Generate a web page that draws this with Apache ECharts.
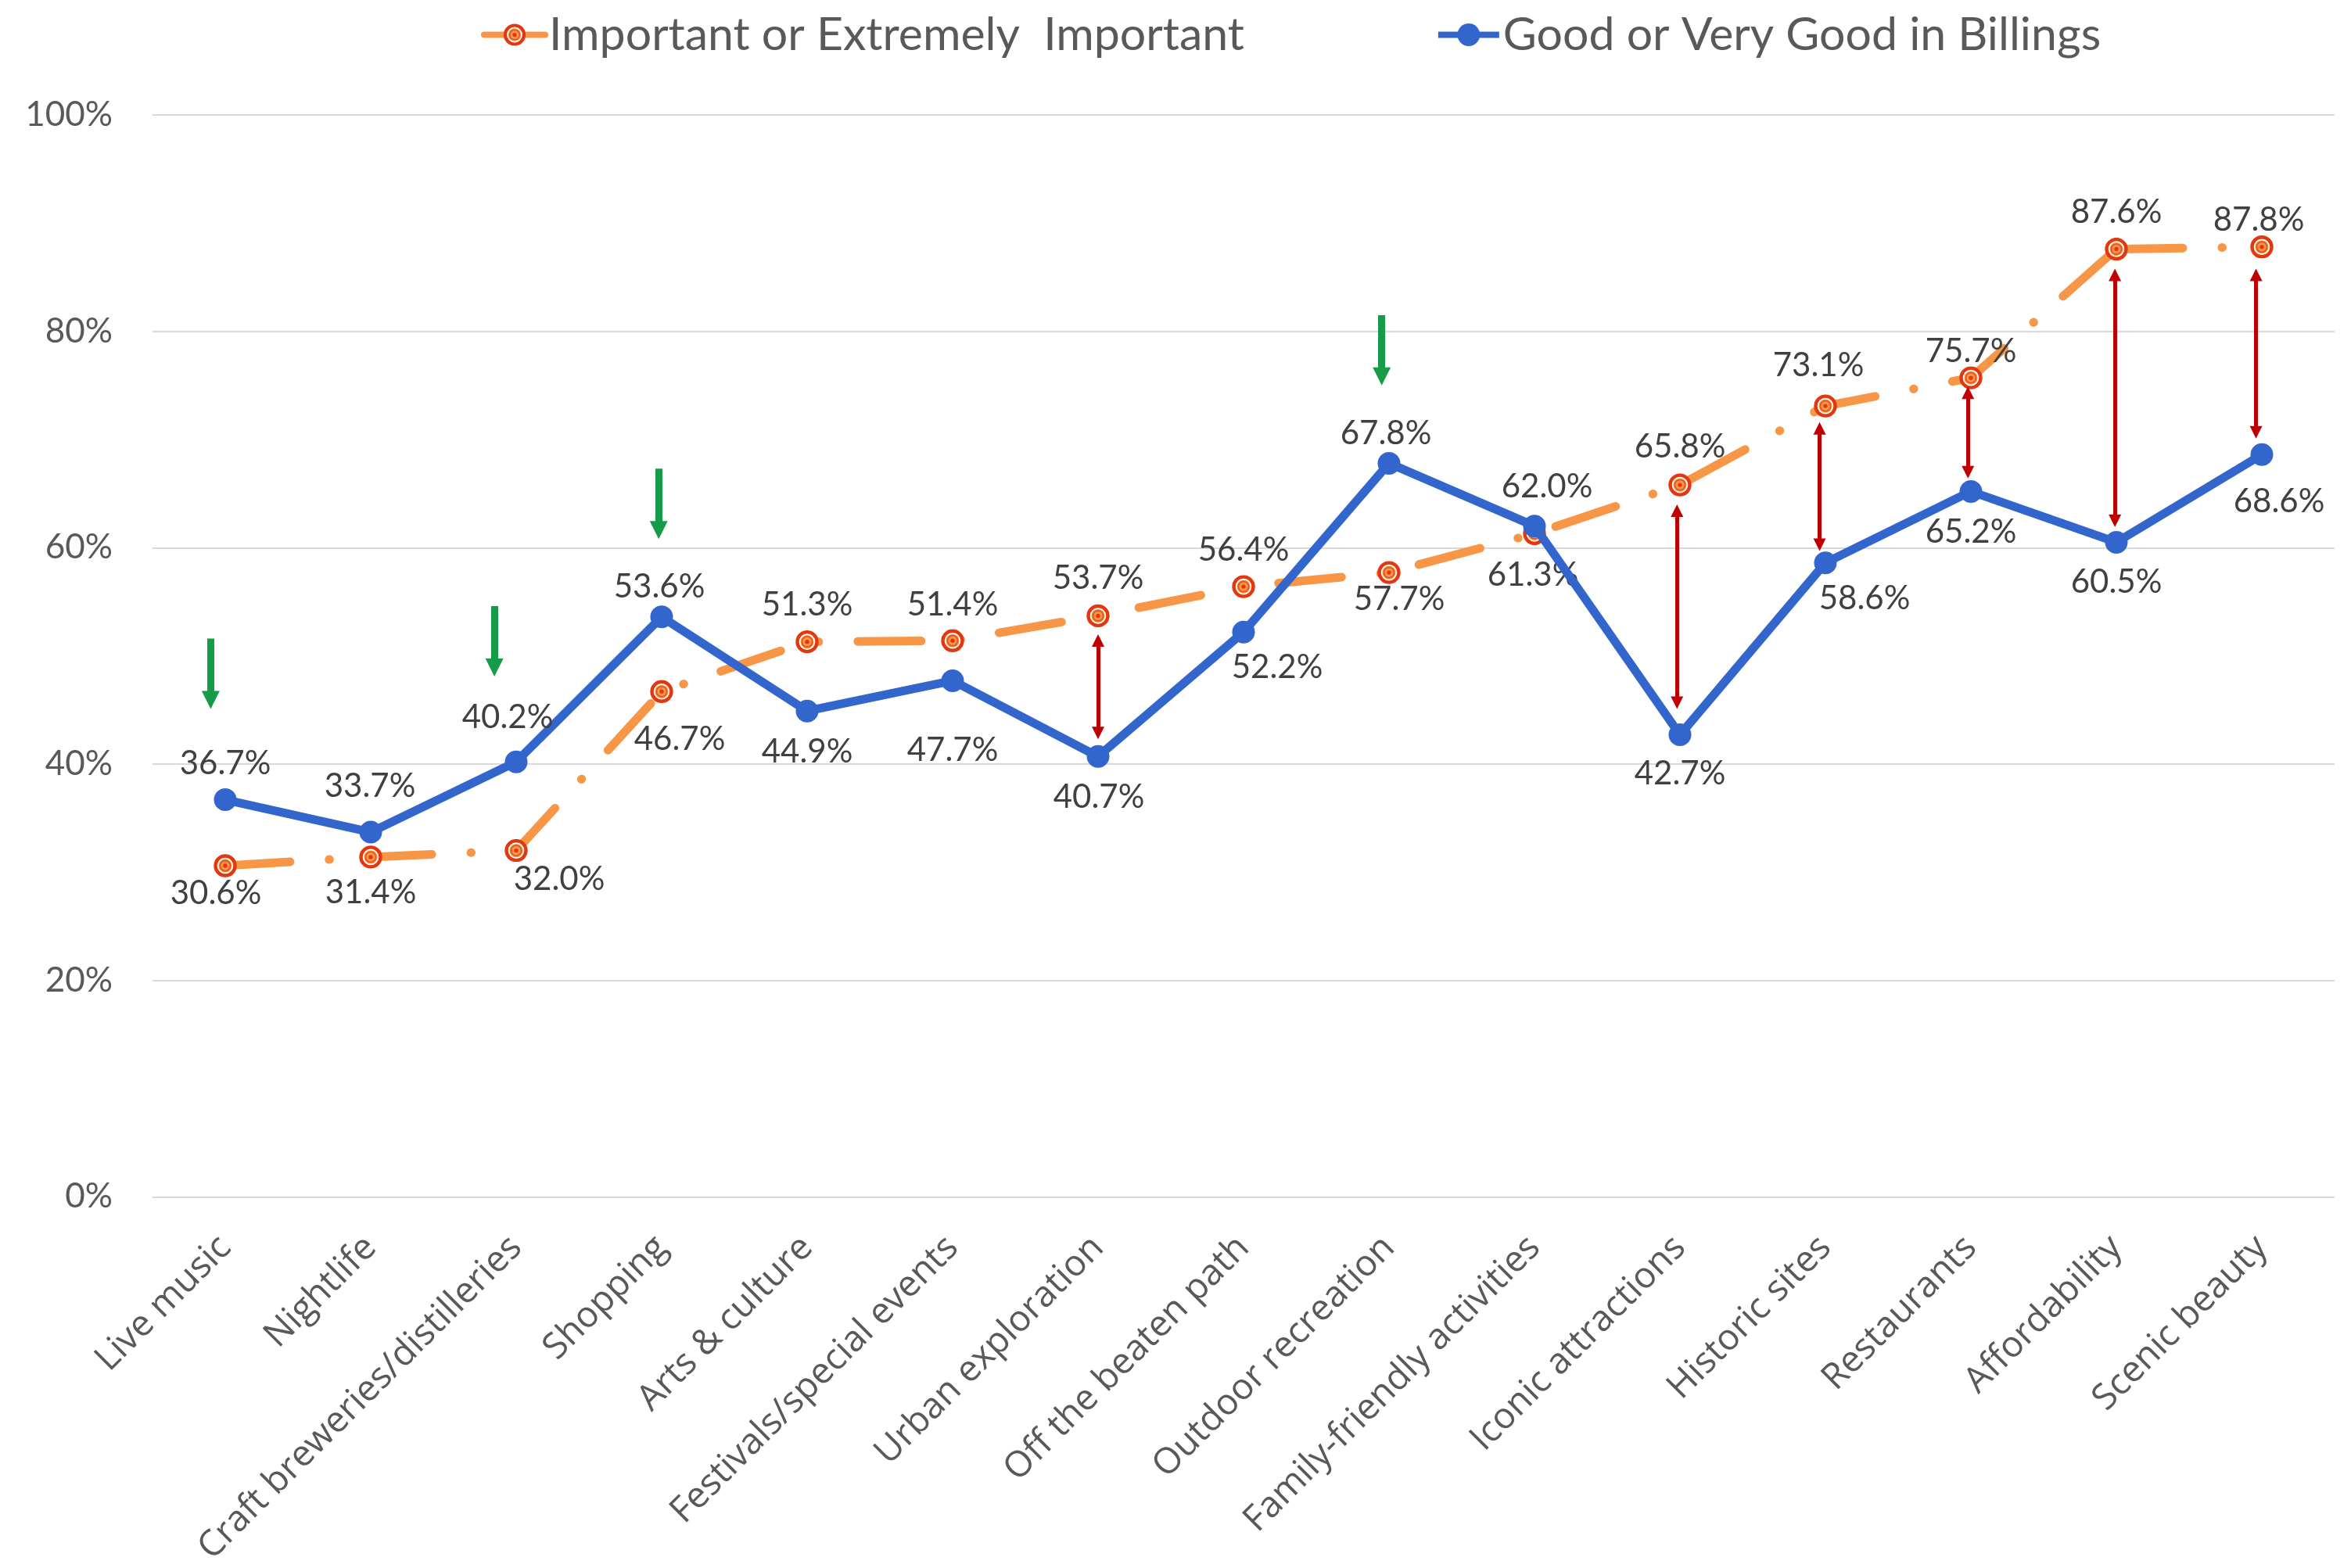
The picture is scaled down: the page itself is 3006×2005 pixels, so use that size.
<!DOCTYPE html>
<html>
<head>
<meta charset="utf-8">
<title>Important vs Good in Billings</title>
<script src="https://cdn.jsdelivr.net/npm/echarts@6/dist/echarts.min.js"></script>
<style>
    html, body { margin: 0; padding: 0; background: #fff; }
    #chart { width: 3006px; height: 2005px; }
</style>
</head>
<body>
<div id="chart"></div>
<script>
const categories = [
    'Live music', 'Nightlife', 'Craft breweries/distilleries', 'Shopping',
    'Arts & culture', 'Festivals/special events', 'Urban exploration',
    'Off the beaten path', 'Outdoor recreation', 'Family-friendly activities',
    'Iconic attractions', 'Historic sites', 'Restaurants', 'Affordability',
    'Scenic beauty'
]
const importantValues = [30.6, 31.4, 32.0, 46.7, 51.3, 51.4, 53.7, 56.4, 57.7, 61.3, 65.8, 73.1, 75.7, 87.6, 87.8]
const goodValues = [36.7, 33.7, 40.2, 53.6, 44.9, 47.7, 40.7, 52.2, 67.8, 62.0, 42.7, 58.6, 65.2, 60.5, 68.6]
const yMin = 0
const yMax = 100
const yInterval = 20

// green "drop" arrows: [x in category units, shaft top %, tip %]
const greenArrows = [[-0.1, 51.6, 45.1], [1.85, 54.6, 48.1], [2.98, 67.3, 60.8], [7.95, 81.5, 75.0]]
// red gap arrows: [x in category units, upper tip %, lower tip %]
const redArrows = [[6.0, 52.0, 42.3], [9.98, 64.0, 45.1], [10.96, 71.6, 59.7], [11.98, 74.9, 66.4], [12.99, 85.8, 61.9], [13.96, 85.8, 70.1]]

// where each value label sits, offset of its centre from the point (px)
const importantLabelOffsets = [[-12, 35], [0, 46], [55, 37], [23, 61], [0, -47], [0, -46], [0, -48], [0, -47], [13, 34], [-2, 53], [0, -49], [-9, -52], [0, -34], [0, -47], [-4, -34]]
const goodLabelOffsets = [[0, -46], [-1, -59], [-11, -57], [-3, -38], [0, 52], [0, 89], [1, 52], [43, 45], [-4, -38], [16, -50], [0, 50], [50, 46], [0, 52], [0, 51], [22, 60]]

const ORANGE = '#F79646'
const RED = '#E2380F'
const BLUE = '#3366CC'
const GREEN = '#169B48'
const DARK_RED = '#C00000'
const FONT = 'Lato, "Open Sans", sans-serif'

const IMPORTANT = 'Important or Extremely  Important'
const GOOD = 'Good or Very Good in Billings'

const grid = { left: 195, right: 21, top: 147, bottom: 470 }

const el = document.getElementById('chart')
const pxPerUnit = (el.clientHeight - grid.top - grid.bottom) / (yMax - yMin)

// Excel's dash pattern starts over on the last orange segment, so it is drawn on its own
const tailStart = categories.length - 2

// target marker used by Excel for the orange series
const targetSvg = `<svg xmlns="http://www.w3.org/2000/svg" width="60" height="60" viewBox="0 0 30 30">
<circle cx="15" cy="15" r="12.5" fill="#fff" stroke="${RED}" stroke-width="4.4"/>
<circle cx="15" cy="15" r="8.6" fill="${ORANGE}"/>
<circle cx="15" cy="15" r="6.6" fill="none" stroke="${RED}" stroke-width="1.6" opacity="0.75"/>
<circle cx="15" cy="15" r="2.7" fill="${RED}"/>
</svg>`
const targetSymbol = 'image://data:image/svg+xml;charset=utf-8,' + encodeURIComponent(targetSvg)

const labelBase = {
    show: true,
    position: 'inside',
    fontFamily: FONT,
    fontSize: 42,
    color: '#404040',
    textBorderWidth: 0,
    formatter: p => p.value.toFixed(1) + '%'
}
const orangeDash = [81, 50, 0.5, 50]

const GREEN_HEAD = 23
const RED_HEAD = 16

const greenLines = greenArrows.map(([x, top, tip]) => ({
    coords: [[x, top], [x, tip + GREEN_HEAD / 2 / pxPerUnit]]
}))
const redLines = redArrows.map(([x, upper, lower]) => ({
    coords: [[x, upper - RED_HEAD / 2 / pxPerUnit], [x, lower + RED_HEAD / 2 / pxPerUnit]]
}))

const importantMain = importantValues.map((v, i) =>
    i > tailStart ? '-' : { value: v, label: { offset: importantLabelOffsets[i] } })
const importantTail = importantValues.map((v, i) => {
    if (i < tailStart) return '-'
    if (i === tailStart) return { value: v, symbol: 'none', label: { show: false } }
    return { value: v, label: { offset: importantLabelOffsets[i] } }
})

const chart = echarts.init(el, null, { renderer: 'canvas' })
chart.setOption({
    animation: false,
    backgroundColor: '#fff',
    grid: grid,
    legend: {
        data: [IMPORTANT, GOOD],
        left: 610,
        top: 10,
        itemWidth: 78,
        itemHeight: 36,
        itemGap: 244,
        lineStyle: { type: 'solid', width: 8 },
        textStyle: { fontFamily: FONT, fontSize: 59, color: '#595959' }
    },
    xAxis: [
        {
            type: 'category',
            data: categories,
            boundaryGap: true,
            axisLine: { show: false },
            axisTick: { show: false },
            axisLabel: {
                interval: 0,
                rotate: 45,
                margin: 58,
                fontFamily: '"Open Sans", sans-serif',
                fontSize: 46,
                color: '#595959'
            }
        },
        {
            // helper axis so the arrows can sit a little off the category centres
            type: 'value',
            min: -0.5,
            max: categories.length - 0.5,
            show: false
        }
    ],
    yAxis: {
        type: 'value',
        min: yMin,
        max: yMax,
        interval: yInterval,
        axisLine: { show: false },
        axisTick: { show: false },
        splitLine: { lineStyle: { color: '#D9D9D9', width: 2 } },
        axisLabel: {
            formatter: '{value}%',
            margin: 51,
            fontFamily: FONT,
            fontSize: 44,
            color: '#595959'
        }
    },
    series: [
        {
            name: IMPORTANT,
            type: 'line',
            z: 2,
            data: importantMain,
            symbol: targetSymbol,
            symbolSize: 30,
            itemStyle: { color: ORANGE },
            lineStyle: { color: ORANGE, width: 11, type: orangeDash, cap: 'round', dashOffset: -2 },
            label: labelBase
        },
        {
            type: 'line',
            z: 2,
            data: importantTail,
            symbol: targetSymbol,
            symbolSize: 30,
            itemStyle: { color: ORANGE },
            lineStyle: { color: ORANGE, width: 11, type: orangeDash, cap: 'round', dashOffset: -4 },
            label: labelBase
        },
        {
            name: GOOD,
            type: 'line',
            z: 3,
            data: goodValues.map((v, i) => ({ value: v, label: { offset: goodLabelOffsets[i] } })),
            symbol: 'circle',
            symbolSize: 29,
            itemStyle: { color: BLUE },
            lineStyle: { color: BLUE, width: 11 },
            label: labelBase
        },
        {
            type: 'lines',
            coordinateSystem: 'cartesian2d',
            xAxisIndex: 1,
            yAxisIndex: 0,
            z: 4,
            silent: true,
            symbol: ['none', 'triangle'],
            symbolSize: GREEN_HEAD,
            lineStyle: { color: GREEN, width: 9, opacity: 1, type: 'solid' },
            data: greenLines
        },
        {
            type: 'lines',
            coordinateSystem: 'cartesian2d',
            xAxisIndex: 1,
            yAxisIndex: 0,
            z: 4,
            silent: true,
            symbol: ['triangle', 'triangle'],
            symbolSize: RED_HEAD,
            lineStyle: { color: DARK_RED, width: 5, opacity: 1, type: 'solid' },
            data: redLines
        }
    ]
})
</script>
</body>
</html>
